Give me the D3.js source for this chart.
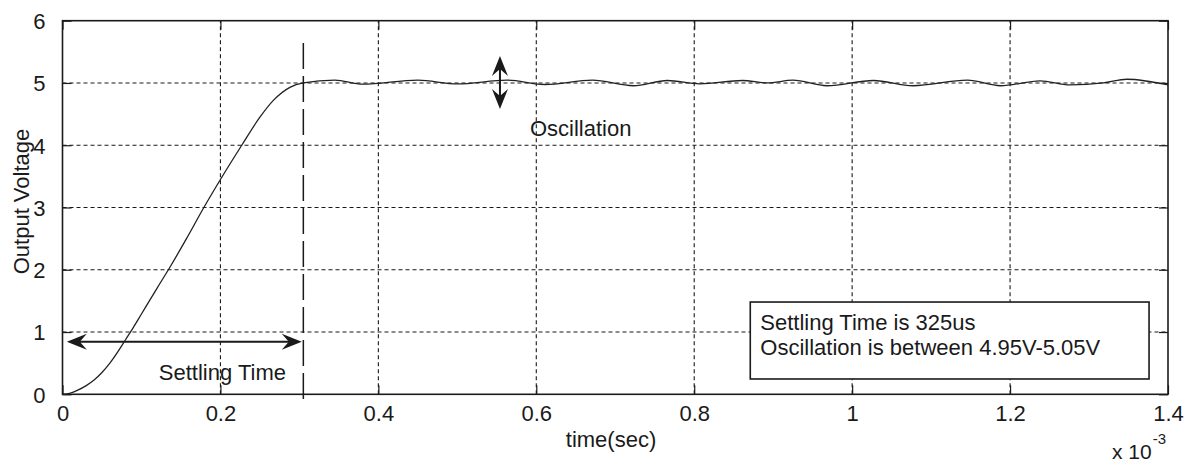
<!DOCTYPE html>
<html>
<head>
<meta charset="utf-8">
<script src="https://cdn.jsdelivr.net/npm/d3@7"></script>
<style>
  html, body { margin: 0; padding: 0; background: #fff; }
  svg { display: block; }
  text { font-family: "Liberation Sans", Arial, sans-serif; fill: #1a1a1a; }
</style>
</head>
<body>
<svg id="chart" width="1193" height="464"></svg>
<script>
// ---- data (time in units of 1e-3 s, voltage in V) ----
const timeMs = [0, 0.01, 0.02, 0.03, 0.04, 0.05, 0.06, 0.07, 0.08, 0.09, 0.10, 0.11, 0.12, 0.136, 0.157, 0.179, 0.20, 0.227, 0.25, 0.267, 0.288, 0.305,
  0.345, 0.380, 0.450, 0.500, 0.563, 0.611, 0.671, 0.723, 0.766, 0.807, 0.861, 0.893, 0.925, 0.968, 1.027, 1.077, 1.146, 1.188, 1.238, 1.276, 1.318, 1.348, 1.400];
const voltage = [0, 0.02, 0.07, 0.14, 0.23, 0.35, 0.5, 0.68, 0.88, 1.08, 1.29, 1.5, 1.71, 2.04, 2.5, 3.0, 3.45, 4.0, 4.45, 4.72, 4.93, 5.0,
  5.045, 4.98, 5.045, 4.985, 5.045, 4.975, 5.045, 4.955, 5.04, 4.985, 5.04, 5.0, 5.045, 4.955, 5.04, 4.955, 5.045, 4.955, 5.035, 4.97, 5.0, 5.06, 4.97];
const xTicks = [0, 0.2, 0.4, 0.6, 0.8, 1, 1.2, 1.4];
const yTicks = [0, 1, 2, 3, 4, 5, 6];
const settlingTime = 0.305;
const boxLines = ["Settling Time is 325us", "Oscillation is between 4.95V-5.05V"];

const svg = d3.select("#chart");
const L = 62.5, R = 1168, T = 20.7, B = 394.3;
const x = d3.scaleLinear().domain([0, 1.4]).range([L, R]);
const y = d3.scaleLinear().domain([0, 6]).range([B, T]);
const ink = "#1a1a1a";

// grid
const grid = svg.append("g");
grid.selectAll(".gx").data(xTicks.slice(1, -1)).join("line")
  .attr("x1", d => x(d)).attr("x2", d => x(d)).attr("y1", B).attr("y2", T)
  .attr("stroke", ink).attr("stroke-width", 1.1).attr("stroke-dasharray", "4,3");
grid.selectAll(".gy").data(yTicks.slice(1, -1)).join("line")
  .attr("y1", d => y(d)).attr("y2", d => y(d)).attr("x1", L).attr("x2", R)
  .attr("stroke", ink).attr("stroke-width", 1.1).attr("stroke-dasharray", "4,3");

// axes (ticks inward on all sides)
const tickLen = 9;
const fmt = d => d3.format("")(d);
const axB = svg.append("g").attr("transform", `translate(0,${B})`)
  .call(d3.axisBottom(x).tickValues(xTicks).tickSizeInner(-tickLen).tickSizeOuter(0).tickPadding(12).tickFormat(fmt));
const axT = svg.append("g").attr("transform", `translate(0,${T})`)
  .call(d3.axisTop(x).tickValues(xTicks).tickSizeInner(-tickLen).tickSizeOuter(0).tickFormat(""));
const axL = svg.append("g").attr("transform", `translate(${L},0)`)
  .call(d3.axisLeft(y).tickValues(yTicks).tickSizeInner(-tickLen).tickSizeOuter(0).tickPadding(17).tickFormat(fmt));
const axR = svg.append("g").attr("transform", `translate(${R},0)`)
  .call(d3.axisRight(y).tickValues(yTicks).tickSizeInner(-tickLen).tickSizeOuter(0).tickFormat(""));
[axB, axT, axL, axR].forEach(a => {
  a.select(".domain").remove();
  a.selectAll(".tick line").attr("stroke", ink).attr("stroke-width", 1.2);
  a.selectAll("text").attr("font-size", 22).attr("fill", "#1a1a1a")
    .attr("font-family", '"Liberation Sans", Arial, sans-serif');
});
axB.selectAll("text").attr("dy", "0.71em").attr("y", 11);
axL.selectAll("text").attr("dy", "0.36em");

// frame
svg.append("rect").attr("x", L).attr("y", T).attr("width", R - L).attr("height", B - T)
  .attr("fill", "none").attr("stroke", ink).attr("stroke-width", 1.6);

// response curve
const pts = timeMs.map((t, i) => [t, voltage[i]]);
svg.append("path").datum(pts)
  .attr("fill", "none").attr("stroke", "#222").attr("stroke-width", 1.3)
  .attr("d", d3.line().x(d => x(d[0])).y(d => y(d[1])).curve(d3.curveMonotoneX));

// settling dashed line
svg.append("line").attr("x1", x(settlingTime)).attr("x2", x(settlingTime))
  .attr("y1", y(5.64)).attr("y2", y(-0.17))
  .attr("stroke", ink).attr("stroke-width", 1.5).attr("stroke-dasharray", "26,7");

// arrow helper
function arrowHead(px, py, angleDeg) {
  svg.append("path")
    .attr("d", "M0,0 L-20,-8 L-13,0 L-20,8 Z")
    .attr("fill", ink)
    .attr("transform", `translate(${px},${py}) rotate(${angleDeg})`);
}
// settling arrow
const sa = { x0: 0.0055, x1: 0.303, v: 0.845 };
svg.append("line").attr("x1", x(sa.x0) + 6).attr("x2", x(sa.x1) - 6)
  .attr("y1", y(sa.v)).attr("y2", y(sa.v)).attr("stroke", ink).attr("stroke-width", 2);
arrowHead(x(sa.x0), y(sa.v), 180);
arrowHead(x(sa.x1), y(sa.v), 0);

// oscillation arrow
const oa = { t: 0.554, v0: 5.433, v1: 4.58 };
svg.append("line").attr("x1", x(oa.t)).attr("x2", x(oa.t))
  .attr("y1", y(oa.v0) + 6).attr("y2", y(oa.v1) - 6).attr("stroke", ink).attr("stroke-width", 2);
arrowHead(x(oa.t), y(oa.v0), -90);
arrowHead(x(oa.t), y(oa.v1), 90);

// annotation labels
svg.append("text").attr("x", x(0.122)).attr("y", y(0.23)).attr("font-size", 22).text("Settling Time");
svg.append("text").attr("x", x(0.592)).attr("y", y(4.145)).attr("font-size", 22).text("Oscillation");

// info box
const bx0 = x(0.871), bx1 = x(1.376), by0 = y(1.482), by1 = y(0.246);
svg.append("rect").attr("x", bx0).attr("y", by0).attr("width", bx1 - bx0).attr("height", by1 - by0)
  .attr("fill", "#fff").attr("stroke", ink).attr("stroke-width", 1.6);
svg.selectAll(".boxline").data(boxLines).join("text")
  .attr("x", bx0 + 10).attr("y", (d, i) => by0 + 28 + i * 25)
  .attr("font-size", 22).text(d => d);

// axis titles
svg.append("text").attr("x", 611).attr("y", 447).attr("text-anchor", "middle")
  .attr("font-size", 22).text("time(sec)");
svg.append("text").attr("transform", "translate(29,201.5) rotate(-90)")
  .attr("text-anchor", "middle").attr("font-size", 22).text("Output Voltage");

// exponent
const ex = svg.append("text").attr("x", 1112).attr("y", 459).attr("font-size", 21);
ex.append("tspan").text("x 10");
ex.append("tspan").attr("dy", -15).attr("dx", 1).attr("font-size", 15).text("-3");
</script>
</body>
</html>
